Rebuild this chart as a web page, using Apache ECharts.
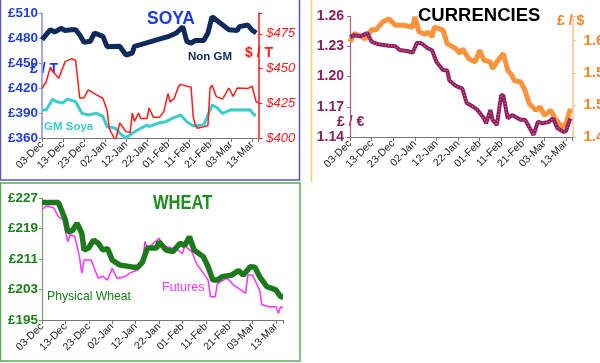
<!DOCTYPE html>
<html><head><meta charset="utf-8">
<script src="https://cdn.jsdelivr.net/npm/echarts@6/dist/echarts.min.js"></script>
<style>html,body{margin:0;padding:0;background:#fff}#c{width:600px;height:363px}</style>
</head><body><div id="c"></div>
<script>
// x tick labels (every 10 days from 03-Dec)
var dateLabels = ['03-Dec','13-Dec','23-Dec','02-Jan','12-Jan','22-Jan','01-Feb','11-Feb','21-Feb','03-Mar','13-Mar'];

// SOYA
var nonGmDays = [0,4,6,9,11,14,16,18,20,23,25,29,31,37,40,43,44,47,51,55,60,64,67,69,71,73,77,79,81,83,89,93,94,98,100,102];
var nonGmVals = [478,490,487,491.6,489,490,490,483.6,475,476,486,482,469.6,470,459.6,462,470,472,475,478,481.6,486,493.6,475.6,474,477,477,486,505.6,501.6,490,489,493.6,495.6,489.6,486];
var usdDays = [0,2,4,5,8,11,14,16,18,20,22,26,29,31,32,35,37,40,42,43,44,46,47,50,51,53,56,58,60,61,63,65,66,71,72,73,74,77,79,80,81,83,86,89,91,93,98,100,102,103];
var usdVals = [435.8,440.5,451,448,443,455,457,456,428.6,429,434.6,431,428.6,420,407,398,410.8,404.6,404,418,412,418,414,414,421.6,415,415,419,432,426,428.6,437,438.6,436.5,415.4,409.4,407,408,409,435.8,438,429.8,428,436,430,436,435.6,437.4,426,425.5];
var gmDays = [0,2,5,7,10,12,16,19,22,26,29,31,35,37,40,43,47,50,51,55,59,62,66,69,72,77,79,81,83,86,90,94,99,101,102];
var gmVals = [393.6,393.6,406.4,403.6,402,406.8,403.6,389.6,387.6,389.6,385.6,373.6,371.6,365.6,360.4,365.6,371.6,375.6,373.6,377.6,379.6,383.6,387.6,379.6,374.4,375.6,387.6,399.6,397,389.6,394,393.6,394,387.6,387.6];

// CURRENCIES
var eurDays = [0,2,5,8,10,13,18,21,23,27,29,31,33,36,38,40,43,45,46,49,52,54,57,59,62,63,65,66,68,70,71,73,75,79,81,82,85,87,89,92,94,96,99,100,102];
var eurVals = [1.239,1.241,1.240,1.243,1.2345,1.232,1.2306,1.230,1.2263,1.225,1.2236,1.2335,1.233,1.228,1.226,1.2147,1.2065,1.206,1.196,1.1906,1.188,1.1737,1.170,1.1668,1.1585,1.1536,1.1668,1.157,1.152,1.1817,1.181,1.1585,1.1618,1.157,1.157,1.1536,1.142,1.1552,1.1536,1.155,1.1585,1.1486,1.145,1.146,1.1585];
var usdRateDays = [0,2,5,7,10,12,15,18,21,25,29,30,32,35,36,38,39,43,45,49,51,52,55,58,60,62,65,66,68,71,73,75,76,79,81,83,86,88,90,93,95,98,100,102];
var usdRateVals = [1.598,1.611,1.607,1.603,1.617,1.617,1.629,1.634,1.624,1.624,1.621,1.637,1.6136,1.61,1.6136,1.6058,1.621,1.617,1.5955,1.5876,1.580,1.5876,1.572,1.5668,1.585,1.5695,1.567,1.5565,1.567,1.58,1.554,1.546,1.538,1.5357,1.5227,1.502,1.4916,1.4967,1.4838,1.4916,1.4787,1.4656,1.4709,1.494];

// WHEAT
var physDays = [0,7,8,10,11,13,14,15,17,18,20,22,24,26,28,30,33,39,41,43,45,49,50,53,56,59,61,63,65,69,71,73,75,77,81,84,86,89,91,93,96,100,102,103];
var physVals = [225.9,225.9,224.4,221.3,218.2,218.5,219.5,220.4,217.8,213.4,214,216,215.2,213.4,213.8,210.8,209.5,208.9,208.9,210.3,213.9,213.9,215.6,213.4,213,215.2,214.6,216.9,213.4,211.6,209,205.5,205.5,206.4,206.8,208,206.8,209,208.9,206.4,203.8,202.9,201.1,201.1];
var futDays = [0,2,5,7,9,11,12,14,16,17,18,21,24,26,28,30,32,35,38,41,43,44,45,46,50,52,55,58,60,61,64,66,70,71,72,74,75,79,80,82,85,87,88,90,93,94,97,100,101,102,103];
var futVals = [224.1,225,224.5,222.2,221.3,215.6,217.4,217,211.6,207.3,210.8,210.8,206,206.5,205.5,208.6,206,206.3,207.5,208.2,210.3,215.6,214,214.3,216.5,214.5,214,213.4,212.5,214.5,213,209.9,206.4,205.5,201.1,201.1,204.6,206,205.5,204.1,202.9,202,206.8,206.8,202.9,199,198.5,198.5,196.8,198.5,198.2];

function pairs(d, v) { return d.map(function (x, i) { return [x, v[i]]; }); }

var FONT = 'Liberation Sans, Arial, sans-serif';

function xAxis(gi) {
  return {
    type: 'value', gridIndex: gi, min: 0, max: 103, interval: 10,
    splitLine: { show: false },
    axisLine: { lineStyle: { color: '#777', width: 1 } },
    axisTick: { show: true, length: 4, lineStyle: { color: '#777' } },
    axisLabel: {
      rotate: 45, margin: 5, fontSize: 10.5, color: '#222', fontFamily: FONT,
      formatter: function (v) { return (v % 10 === 0) ? (dateLabels[v / 10] || '') : ''; }
    }
  };
}

var chart = echarts.init(document.getElementById('c'), null, { renderer: 'canvas' });

chart.setOption({
  animation: false,
  backgroundColor: '#fff',
  grid: [
    { left: 42, top: 13, width: 216.3, height: 125, containLabel: false, outerBoundsMode: 'none' },
    { left: 350, top: 16, width: 222.5, height: 121, containLabel: false, outerBoundsMode: 'none' },
    { left: 42, top: 198.3, width: 241, height: 121.7, containLabel: false, outerBoundsMode: 'none' }
  ],
  xAxis: [xAxis(0), xAxis(1), xAxis(2)],
  yAxis: [
    { type: 'value', gridIndex: 0, min: 360, max: 510, interval: 30, position: 'left',
      splitLine: { show: false },
      axisLine: { show: true, lineStyle: { color: '#8a8aff', width: 1.5 } },
      axisTick: { show: true, length: 3, lineStyle: { color: '#8a8aff' } },
      axisLabel: { color: '#1f3fe0', fontWeight: 'bold', fontSize: 13.5, fontFamily: FONT, margin: 4,
        formatter: function (v) { return '£' + v; } } },
    { type: 'value', gridIndex: 0, min: 400, max: 490, interval: 25, position: 'right',
      splitLine: { show: false },
      axisLine: { show: true, lineStyle: { color: '#ff1a1a', width: 1.5 } },
      axisTick: { show: true, length: 4, inside: false, lineStyle: { color: '#ff1a1a' } },
      axisLabel: { color: '#ff1a1a', fontStyle: 'italic', fontSize: 13, fontFamily: FONT, margin: 8,
        formatter: function (v) { return (v % 25 === 0) ? '$' + v : ''; } } },
    { type: 'value', gridIndex: 1, min: 1.14, max: 1.26, interval: 0.03, position: 'left',
      splitLine: { show: false },
      axisLine: { show: true, lineStyle: { color: '#b0607a', width: 1.2 } },
      axisTick: { show: true, length: 3, lineStyle: { color: '#b0607a' } },
      axisLabel: { color: '#8c2260', fontWeight: 'bold', fontSize: 14, fontFamily: FONT, margin: 6,
        formatter: function (v) { return v.toFixed(2); } } },
    { type: 'value', gridIndex: 1, min: 1.45, max: 1.6385, interval: 0.05, position: 'right',
      splitLine: { show: false },
      axisLine: { show: true, lineStyle: { color: '#fcc08e', width: 1.5 } },
      axisTick: { show: true, length: 4, lineStyle: { color: '#fcc08e' } },
      axisLabel: { color: '#f5842a', fontWeight: 'bold', fontSize: 15, fontFamily: FONT, margin: 11,
        formatter: function (v) { var r = Math.round(v * 100); return (r % 5 === 0 && Math.abs(v * 100 - r) < 0.01) ? v.toFixed(2) : ''; } } },
    { type: 'value', gridIndex: 2, min: 195, max: 227, interval: 8, position: 'left',
      splitLine: { show: false },
      axisLine: { show: true, lineStyle: { color: '#7a9a7a', width: 1.2 } },
      axisTick: { show: true, length: 3, lineStyle: { color: '#7a9a7a' } },
      axisLabel: { color: '#1a801a', fontWeight: 'bold', fontSize: 13.5, fontFamily: FONT, margin: 4,
        formatter: function (v) { return '£' + v; } } }
  ],
  series: [
    { name: 'GM Soya', type: 'line', xAxisIndex: 0, yAxisIndex: 0, data: pairs(gmDays, gmVals),
      symbol: 'none', lineStyle: { color: '#3ccccc', width: 3 } },
    { name: '$ / T', type: 'line', xAxisIndex: 0, yAxisIndex: 1, data: pairs(usdDays, usdVals),
      symbol: 'none', lineStyle: { color: '#ff1a1a', width: 1.5 } },
    { name: 'Non GM', type: 'line', xAxisIndex: 0, yAxisIndex: 0, data: pairs(nonGmDays, nonGmVals),
      symbol: 'none', lineStyle: { color: '#0f2a5c', width: 5 } },
    { name: '£ / $', type: 'line', xAxisIndex: 1, yAxisIndex: 3, data: pairs(usdRateDays, usdRateVals),
      symbol: 'none', lineStyle: { color: '#f9943c', width: 5 } },
    { name: '£ / €', type: 'line', xAxisIndex: 1, yAxisIndex: 2, data: pairs(eurDays, eurVals),
      symbol: 'none', lineStyle: { color: '#8e1f5e', width: 4 } },
    { name: '£ / € texture', type: 'line', xAxisIndex: 1, yAxisIndex: 2, data: pairs(eurDays, eurVals),
      symbol: 'none', lineStyle: { color: '#e070b0', width: 1.2, type: [1, 2] } },
    { name: 'Futures', type: 'line', xAxisIndex: 2, yAxisIndex: 4, data: pairs(futDays, futVals),
      symbol: 'none', lineStyle: { color: '#ff33ff', width: 1.5 } },
    { name: 'Physical Wheat', type: 'line', xAxisIndex: 2, yAxisIndex: 4, data: pairs(physDays, physVals),
      symbol: 'none', lineStyle: { color: '#1c7a1c', width: 5.5 } }
  ],
  graphic: [
    { type: 'rect', shape: { x: 0.5, y: -2, width: 299, height: 182 }, style: { fill: 'none', stroke: '#5a5ab8', lineWidth: 1.5 }, z: 0 },
    { type: 'rect', shape: { x: 0.5, y: 183, width: 299.5, height: 178 }, style: { fill: 'none', stroke: '#5aaa5a', lineWidth: 1.5 }, z: 0 },
    { type: 'line', shape: { x1: 311.5, y1: 0, x2: 311.5, y2: 182 }, style: { stroke: '#f5d25a', lineWidth: 1.5 }, z: 0 },
    { type: 'text', x: 147, y: 9, scaleY: 1.1, style: { text: 'SOYA', fill: '#1e3ce0', font: 'bold 17.5px ' + FONT } },
    { type: 'text', left: 30, top: 62, style: { text: '£ / T', fill: '#1e3ce0', font: 'bold 14px ' + FONT } },
    { type: 'text', left: 245, top: 46, style: { text: '$ / T', fill: '#ff1a1a', font: 'bold 14px ' + FONT } },
    { type: 'text', left: 188, top: 51, style: { text: 'Non GM', fill: '#0f2a5c', font: 'bold 11.5px ' + FONT } },
    { type: 'text', left: 44, top: 121, style: { text: 'GM Soya', fill: '#3ccccc', font: 'bold 11.5px ' + FONT } },
    { type: 'text', left: 418, top: 6, style: { text: 'CURRENCIES', fill: '#000', font: 'bold 18.5px ' + FONT } },
    { type: 'text', left: 557, top: 14, style: { text: '£ / $', fill: '#f5842a', font: 'bold 14px ' + FONT } },
    { type: 'text', left: 337, top: 115, style: { text: '£ / €', fill: '#8c2260', font: 'bold 14px ' + FONT } },
    { type: 'text', x: 153, y: 193, scaleY: 1.25, style: { text: 'WHEAT', fill: '#1e8c1e', font: 'bold 16.5px ' + FONT } },
    { type: 'text', left: 47, top: 291, style: { text: 'Physical Wheat', fill: '#1a801a', font: '12.2px ' + FONT } },
    { type: 'text', left: 162, top: 281, style: { text: 'Futures', fill: '#ff33ff', font: '12.5px ' + FONT } }
  ]
});
</script></body></html>
